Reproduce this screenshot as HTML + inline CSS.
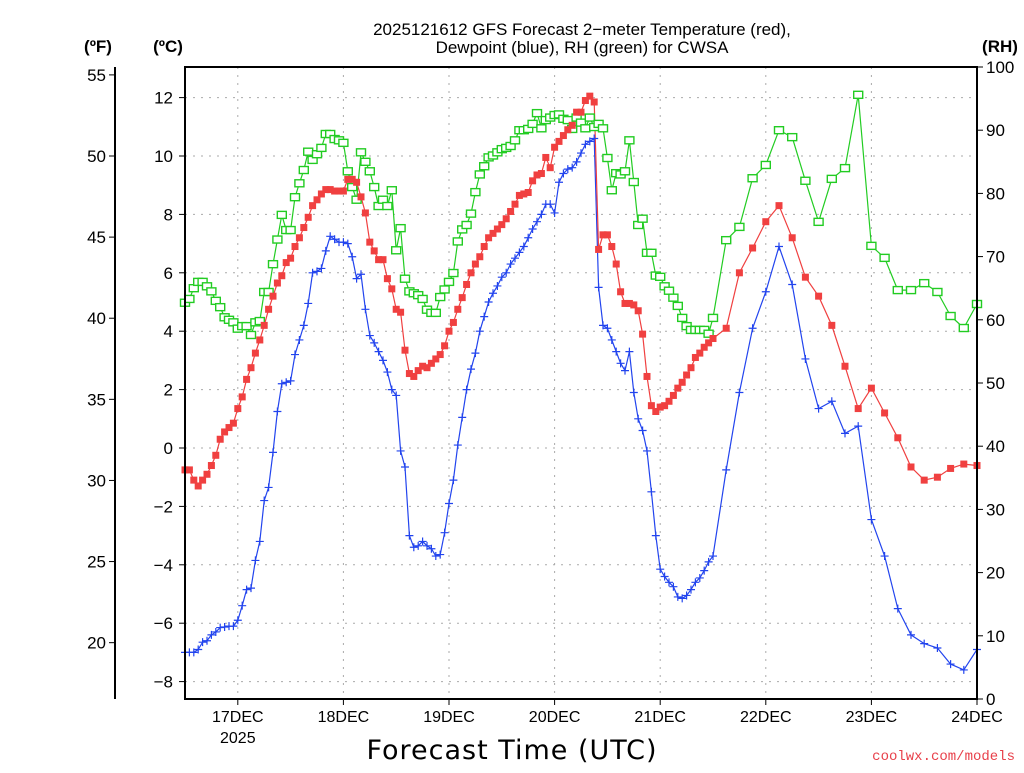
<!DOCTYPE html>
<html><head><meta charset="utf-8"><style>
html,body{margin:0;padding:0;background:#fff;}
svg text{font-family:"Liberation Sans",sans-serif;}
</style></head><body>
<svg id="chart" width="1024" height="768" viewBox="0 0 1024 768" xmlns="http://www.w3.org/2000/svg">
<text x="582" y="35" text-anchor="middle" font-size="17" fill="#000">2025121612 GFS Forecast 2−meter Temperature (red),</text>
<text x="582" y="53" text-anchor="middle" font-size="17" fill="#000">Dewpoint (blue), RH (green) for CWSA</text>
<text x="98" y="52" text-anchor="middle" font-size="17" font-weight="bold">(ºF)</text>
<text x="168" y="52" text-anchor="middle" font-size="17" font-weight="bold">(ºC)</text>
<text x="1000" y="52" text-anchor="middle" font-size="17" font-weight="bold">(RH)</text>
<text x="512" y="759" text-anchor="middle" font-size="27" style="font-family:'DejaVu Sans',sans-serif" letter-spacing="1">Forecast Time (UTC)</text>
<text x="1015" y="760" text-anchor="end" font-size="14" fill="#e8404a" style="font-family:'Liberation Mono',monospace">coolwx.com/models</text>
<g id="grid"></g><g id="axes"></g><g id="series"></g>
<rect x="185" y="67" width="792" height="632" fill="none" stroke="#000" stroke-width="2"/>
</svg>
<script>
const hours=[];for(let h=0;h<=120;h++)hours.push(h);for(let h=123;h<=180;h+=3)hours.push(h);
const tempC=[-0.75,-0.75,-1.1,-1.3,-1.1,-0.9,-0.6,-0.25,0.3,0.55,0.7,0.85,1.35,1.75,2.35,2.75,3.25,3.7,4.2,4.75,5.2,5.65,5.9,6.35,6.5,6.9,7.2,7.55,7.9,8.3,8.5,8.7,8.85,8.85,8.8,8.8,
8.8,9.2,9.2,9.1,8.6,8.05,7.05,6.75,6.45,6.45,5.8,5.45,4.75,4.65,3.35,2.55,2.45,2.65,2.8,2.75,2.9,3.05,3.2,3.5,4.0,4.3,4.75,5.15,5.6,6.0,6.3,6.55,6.9,7.2,7.35,7.5,7.65,7.85,8.1,8.35,8.65,8.7,8.75,9.15,9.35,9.4,9.95,9.6,10.3,10.5,10.7,10.9,11.05,11.5,11.5,11.9,12.05,11.85,6.8,7.3,7.3,6.9,6.3,5.35,4.95,4.95,4.9,4.7,3.9,2.45,1.45,1.25,1.4,1.45,1.6,1.8,2.05,2.25,2.5,2.75,3.1,3.25,3.45,3.6,3.75,
4.1,6.0,6.85,7.75,8.3,7.2,5.85,5.2,4.2,2.8,1.35,2.05,1.2,0.35,-0.65,-1.1,-1.0,-0.7,-0.55,-0.6];
const dewC=[-7.0,-7.0,-7.0,-6.9,-6.65,-6.6,-6.4,-6.3,-6.15,-6.13,-6.1,-6.1,-5.9,-5.4,-4.85,-4.8,-3.85,-3.2,-1.8,-1.35,-0.15,1.25,2.2,2.25,2.3,3.2,3.7,4.2,4.95,6.0,6.05,6.15,6.75,7.25,7.15,7.05,
7.05,7.0,6.55,5.8,5.95,4.75,3.85,3.6,3.3,3.0,2.6,2.0,1.8,-0.1,-0.65,-3.0,-3.4,-3.35,-3.2,-3.35,-3.45,-3.7,-3.65,-2.9,-1.9,-1.1,0.1,1.05,2.0,2.7,3.25,4.0,4.5,5.0,5.3,5.55,5.85,6.0,6.3,6.5,6.7,6.9,7.2,7.5,7.75,8.0,8.35,8.35,8.05,9.1,9.4,9.55,9.6,9.8,10.1,10.4,10.5,10.6,5.5,4.2,4.1,3.7,3.3,2.9,2.65,3.3,1.9,1.0,0.6,-0.1,-1.5,-3.0,-4.15,-4.4,-4.6,-4.75,-5.1,-5.15,-5.05,-4.85,-4.6,-4.45,-4.2,-3.9,-3.7,
-0.75,1.9,4.1,5.35,6.9,5.6,3.05,1.35,1.6,0.5,0.75,-2.45,-3.7,-5.5,-6.4,-6.7,-6.85,-7.4,-7.6,-6.9];
const rhPct=[62.7,63.3,65,66,66,65.3,64.5,63,62,60.4,60,59.6,58.6,59,59,57.6,59.6,59.8,64.4,64.4,68.8,72.7,76.6,74.2,74.2,79.4,81.6,83.7,86.6,85.3,86.2,87.2,89.4,89.4,88.6,88.4,
88,83.5,81,79,86.5,85,83.5,81,78,79,78,80.5,71,74.5,66.5,64.5,64.2,63.9,63.3,61.6,61.1,61.1,63.6,64.8,66,67.4,72.4,74.3,75,76.8,80.2,83,84.3,85.7,86,86.5,87,87.2,87.5,88.4,90,90,90.2,91,92.7,90.3,91.6,92,92.4,92.5,91.8,91.6,90.2,92,91.2,90.3,92,90.5,91,90.3,85.6,80.5,83.2,83,83.5,88.4,81.8,75,76,70.6,70.6,67,66.8,65.3,64.6,63.5,62.2,60.3,59,58.4,58.4,58.4,58.4,57.8,60.3,
72.6,74.7,82.4,84.5,90,88.9,82,75.5,82.3,84,95.6,71.7,69.8,64.7,64.7,65.8,64.4,60.6,58.7,62.5];
const dayLabels=["17DEC","18DEC","19DEC","20DEC","21DEC","22DEC","23DEC","24DEC"];
const dayHours=[12,36,60,84,108,132,156,180];
const cTicks=[-8,-6,-4,-2,0,2,4,6,8,10,12];
const fTicks=[20,25,30,35,40,45,50,55];
const rhTicks=[0,10,20,30,40,50,60,70,80,90,100];

const NS="http://www.w3.org/2000/svg";
const X0=185,X1=977,Y0=67,Y1=699;
const xS=h=>X0+(h/180)*(X1-X0);
const yC=c=>448-29.2*c;
const yF=f=>yC((f-32)/1.8);
const yR=r=>Y1-(r/100)*(Y1-Y0);
function mk(tag,attrs,parent){const e=document.createElementNS(NS,tag);for(const k in attrs)e.setAttribute(k,attrs[k]);parent.appendChild(e);return e;}
const grid=document.getElementById('grid'),axes=document.getElementById('axes'),ser=document.getElementById('series');
cTicks.forEach(c=>{const y=yC(c);
 const g=mk('line',{x1:X0,x2:X1,y1:y,y2:y,stroke:'#aaa','stroke-dasharray':'2,6'},grid);
 
 
 mk('line',{x1:X0-6,x2:X0,y1:y,y2:y,stroke:'#000'},axes);
 const t=mk('text',{x:173,y:y+6,'text-anchor':'end','font-size':'17'},axes);t.textContent=(c<0?'−':'')+Math.abs(c);
 
 
});
dayHours.forEach((h,i)=>{const x=xS(h);
 if(i<dayHours.length-1){const g=mk('line',{x1:x,x2:x,y1:Y0,y2:Y1,stroke:'#aaa','stroke-dasharray':'2,6'},grid);
 
 }
 mk('line',{x1:x,x2:x,y1:Y1,y2:Y1+6,stroke:'#000'},axes);
 const t=mk('text',{x:x,y:722,'text-anchor':'middle','font-size':'16'},axes);t.textContent=dayLabels[i];
 
 
});
const yr=mk('text',{x:xS(12),y:743,'text-anchor':'middle','font-size':'16'},axes);yr.textContent='2025';


mk('line',{x1:115,x2:115,y1:67,y2:699,stroke:'#000','stroke-width':2},axes);
fTicks.forEach(f=>{const y=yF(f);
 mk('line',{x1:109,x2:115,y1:y,y2:y,stroke:'#000'},axes);
 const t=mk('text',{x:106,y:y+6,'text-anchor':'end','font-size':'17'},axes);t.textContent=f;
 
 
});
rhTicks.forEach(r=>{const y=yR(r);
 mk('line',{x1:X1,x2:X1+6,y1:y,y2:y,stroke:'#000'},axes);
 const t=mk('text',{x:986,y:y+6,'text-anchor':'start','font-size':'17'},axes);t.textContent=r;
 
 
});
function line(vals,yf,color,name){
 const pts=vals.map((v,i)=>xS(hours[i]).toFixed(1)+','+yf(v).toFixed(1)).join(' ');
 const p=mk('polyline',{points:pts,fill:'none',stroke:color,'stroke-width':1.2},ser);
 
 
}
line(rhPct,yR,'#22cc22','rh-line');
line(dewC,yC,'#2244ee','dewpoint-line');
line(tempC,yC,'#f04040','temperature-line');
rhPct.forEach((v,i)=>{const m=mk('rect',{x:xS(hours[i])-4.5,y:yR(v)-3.5,width:9,height:7,fill:'#fff',stroke:'#22cc22','stroke-width':1.4},ser);
 
 });
dewC.forEach((v,i)=>{const x=xS(hours[i]),y=yC(v);
 const m=mk('path',{d:`M${x-4},${y}H${x+4}M${x},${y-4}V${y+4}`,stroke:'#2244ee','stroke-width':1.2,fill:'none'},ser);
 
 });
tempC.forEach((v,i)=>{const m=mk('rect',{x:xS(hours[i])-3.5,y:yC(v)-3.5,width:7,height:7,fill:'#f04040'},ser);
 
 });
</script>
</body></html>
